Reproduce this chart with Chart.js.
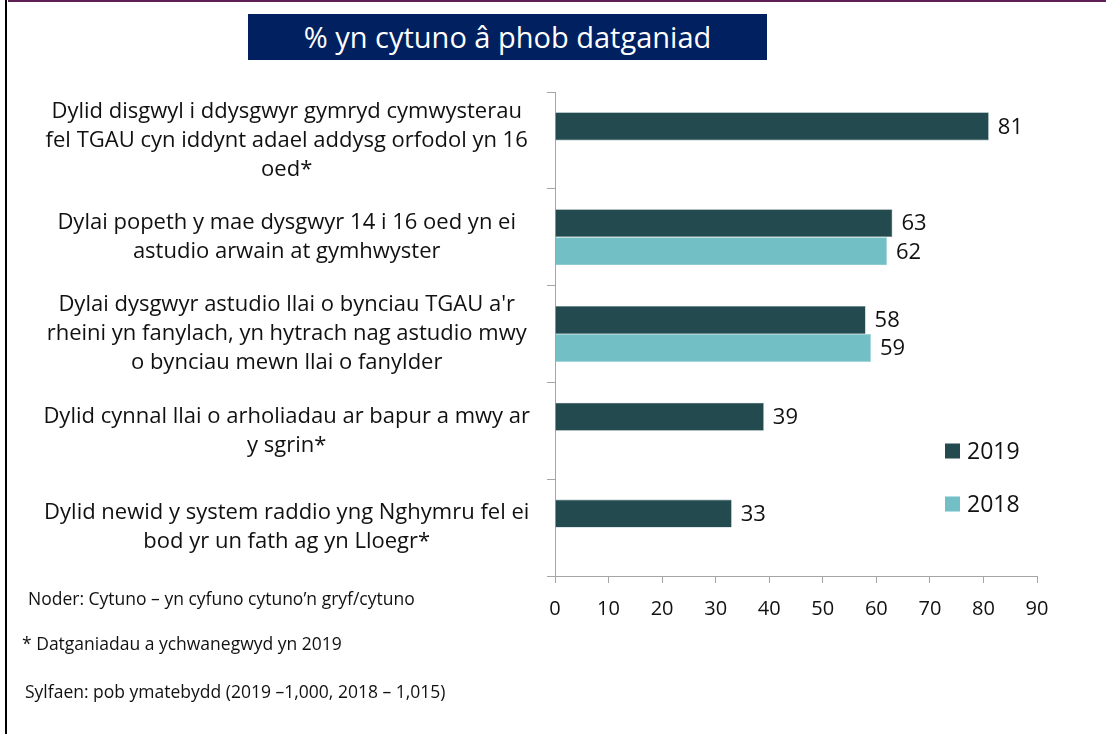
<!DOCTYPE html>
<html>
<head>
<meta charset="utf-8">
<title>% yn cytuno â phob datganiad</title>
<script src="https://cdn.jsdelivr.net/npm/chart.js@4.4.1/dist/chart.umd.min.js"></script>
<style>
  body { margin: 0; background: #fff; font-family: "Open Sans", sans-serif; }
  #page { position: relative; width: 1106px; height: 734px; overflow: hidden; }
  #chartBox { position: absolute; left: 0; top: 0; width: 1106px; height: 734px; }
  .frame-left { position: absolute; left: 5px; top: 0; width: 2px; height: 734px; background: #000; }
  .frame-top { position: absolute; left: 8px; top: 0; right: 0; height: 2px; background: #5f2057; }
  #title {
    position: absolute; left: 248px; top: 14px; width: 519px; height: 46px;
    background: #002060; color: #fff; font-size: 29px; line-height: 46px; text-align: center;
  }
  .note { position: absolute; font-size: 17.5px; line-height: 24px; color: #111; white-space: nowrap; }
</style>
</head>
<body>
<div id="page">
  <div id="chartBox"><canvas id="chart"></canvas></div>
  <div class="frame-left"></div>
  <div class="frame-top"></div>
  <div id="title">% yn cytuno â phob datganiad</div>
  <div class="note" style="left:28px; top:586px;">Noder: Cytuno – yn cyfuno cytuno’n gryf/cytuno</div>
  <div class="note" style="left:22px; top:631px;">* Datganiadau a ychwanegwyd yn 2019</div>
  <div class="note" style="left:25px; top:679px;">Sylfaen: pob ymatebydd (2019 –1,000, 2018 – 1,015)</div>
</div>

<script>
// categories (statements), split into lines as in the original
const statements = [
  ['Dylid disgwyl i ddysgwyr gymryd cymwysterau', 'fel TGAU cyn iddynt adael addysg orfodol yn 16', 'oed*'],
  ['Dylai popeth y mae dysgwyr 14 i 16 oed yn ei', 'astudio arwain at gymhwyster'],
  ["Dylai dysgwyr astudio llai o bynciau TGAU a'r", 'rheini yn fanylach, yn hytrach nag astudio mwy', 'o bynciau mewn llai o fanylder'],
  ['Dylid cynnal llai o arholiadau ar bapur a mwy ar', 'y sgrin*'],
  ['Dylid newid y system raddio yng Nghymru fel ei', 'bod yr un fath ag yn Lloegr*']
];

// % agreeing
const values2019 = [81, 63, 58, 39, 33];
const values2018 = [null, 62, 59, null, null];

// x axis
const xMin = 0;
const xMax = 90;
const xStep = 10;

const col2019 = '#234b4f';
const col2018 = '#72bfc5';
const axisGrey = '#a6a6a6';
const fontFam = '"Open Sans", sans-serif';

// value labels at the end of each bar
const barLabels = {
  id: 'barLabels',
  afterDatasetsDraw(chart) {
    const ctx = chart.ctx;
    ctx.save();
    ctx.font = '22px ' + fontFam;
    ctx.fillStyle = '#111';
    ctx.textAlign = 'left';
    ctx.textBaseline = 'middle';
    chart.data.datasets.forEach((ds, i) => {
      const meta = chart.getDatasetMeta(i);
      meta.data.forEach((bar, j) => {
        const v = ds.data[j];
        if (v === null || v === undefined) return;
        ctx.fillText(String(v), bar.x + 9, bar.y + 1);
      });
    });
    ctx.restore();
  }
};

// legend sitting inside the plot, lower right
const innerLegend = {
  id: 'innerLegend',
  afterDraw(chart) {
    const ctx = chart.ctx;
    const area = chart.chartArea;
    const x = area.right - 92;
    const rows = [451, 504];
    ctx.save();
    ctx.font = '23px ' + fontFam;
    ctx.textBaseline = 'middle';
    ctx.textAlign = 'left';
    chart.data.datasets.forEach((ds, i) => {
      const y = rows[i];
      ctx.fillStyle = ds.backgroundColor;
      ctx.fillRect(x, y - 7.5, 15, 15);
      ctx.fillStyle = '#111';
      ctx.fillText(ds.label, x + 22, y + 1);
    });
    ctx.restore();
  }
};

new Chart(document.getElementById('chart'), {
  type: 'bar',
  data: {
    labels: statements,
    datasets: [
      { label: '2019', data: values2019, backgroundColor: col2019, borderColor: '#7f9c9e', borderWidth: 0.6,
        barPercentage: 1, categoryPercentage: 0.58 },
      { label: '2018', data: values2018, backgroundColor: col2018, borderColor: '#a9d9dc', borderWidth: 0.6,
        barPercentage: 1, categoryPercentage: 0.58 }
    ]
  },
  options: {
    indexAxis: 'y',
    responsive: true,
    maintainAspectRatio: false,
    animation: false,
    layout: { padding: { left: 20, top: 92, right: 69, bottom: 118 } },
    plugins: {
      legend: { display: false },
      tooltip: { enabled: false },
      title: { display: false }
    },
    scales: {
      x: {
        min: xMin,
        max: xMax,
        ticks: { stepSize: xStep, color: '#111', font: { family: fontFam, size: 20 }, padding: 14 },
        grid: { drawOnChartArea: false, drawTicks: true, tickLength: 7, color: axisGrey },
        border: { color: axisGrey, width: 1 },
        afterFit(scale) { scale.height = 40; }
      },
      y: {
        ticks: {
          color: '#111',
          font: { family: fontFam, size: 22, lineHeight: 1.32 },
          crossAlign: 'center',
          padding: 17,
          autoSkip: false
        },
        grid: { drawOnChartArea: false, drawTicks: true, tickLength: 8, color: axisGrey, offset: true },
        border: { color: axisGrey, width: 1 },
        afterFit(scale) { scale.width = 535; }
      }
    }
  },
  plugins: [barLabels, innerLegend]
});
</script>
</body>
</html>
